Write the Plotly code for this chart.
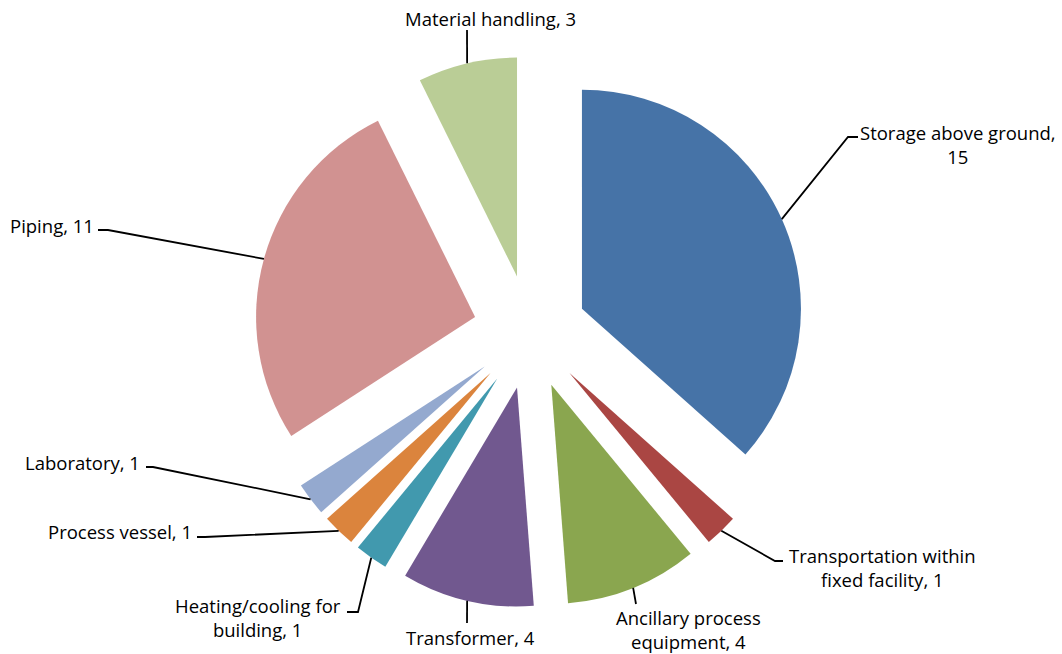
import math
import plotly.graph_objects as go

# Incident counts by equipment type
categories = [
    "Storage above ground",
    "Transportation within fixed facility",
    "Ancillary process equipment",
    "Transformer",
    "Heating/cooling for building",
    "Process vessel",
    "Laboratory",
    "Piping",
    "Material handling",
]
counts = [15, 1, 4, 4, 1, 1, 1, 11, 3]
colors = ["#4673A7", "#AA4643", "#8AA64F", "#71588F", "#4199AE",
          "#DB843D", "#94A9CF", "#D19291", "#BACD96"]
# words kept on the first line of each data label (0 = single line)
wrap_words = [3, 2, 2, 0, 2, 0, 0, 0, 0]

# ---- layout constants (pixels) ----
W, H = 1062, 654
CX, CY = 530, 332          # pie centre
R = 219                    # slice radius
PULL = 0.26                # explosion, fraction of radius

# label centres and leader-line knee points for each slice
label_xy = [(958, 145), (882, 567), (688, 629), (470, 637), (258, 617),
            (120, 531), (82, 462), (52, 225), (490, 18)]
leader_pts = [
    [(848, 137), (858, 137)],
    [(775, 561), (783, 561)],
    [(636, 604)],
    [(467, 623)],
    [(358, 612), (347, 612)],
    [(205, 537), (197, 537)],
    [(153, 467), (146, 467)],
    [(108, 230), (98, 230)],
    [(467, 30)],
]

half = R * (1 + PULL)
dom_x = [(CX - half - 20) / W, (CX + half + 20) / W]
dom_y = [1 - (CY + half) / H, 1 - (CY - half) / H]


def px(x):
    return x / W


def py(y):
    return 1 - y / H


fig = go.Figure(go.Pie(
    labels=categories,
    values=counts,
    sort=False,
    direction="clockwise",
    rotation=0,
    pull=[PULL] * len(counts),
    marker=dict(colors=colors, line=dict(width=0)),
    textinfo="none",
    hoverinfo="label+value",
    domain=dict(x=dom_x, y=dom_y),
    showlegend=False,
))

total = sum(counts)
cum = 0
shapes, annotations = [], []
for i, (name, n) in enumerate(zip(categories, counts)):
    mid = (cum + n / 2) / total * 2 * math.pi
    cum += n
    # outer arc point of the exploded slice at its mid angle
    ax = CX + (1 + PULL) * R * math.sin(mid)
    ay = CY - (1 + PULL) * R * math.cos(mid)
    pts = [(ax, ay)] + leader_pts[i]
    path = "M " + " L ".join(f"{px(x):.5f},{py(y):.5f}" for x, y in pts)
    shapes.append(dict(type="path", path=path, xref="paper", yref="paper",
                       line=dict(color="black", width=1.8)))

    words = f"{name}, {n}".split(" ")
    k = wrap_words[i]
    text = " ".join(words) if k == 0 else " ".join(words[:k]) + "<br>" + " ".join(words[k:])
    lx, ly = label_xy[i]
    annotations.append(dict(x=px(lx), y=py(ly), xref="paper", yref="paper",
                            text=text, showarrow=False, align="center",
                            xanchor="center", yanchor="middle",
                            font=dict(family="Open Sans", size=18.5, color="black")))

fig.update_layout(
    width=W, height=H,
    margin=dict(l=0, r=0, t=0, b=0),
    paper_bgcolor="white",
    plot_bgcolor="white",
    shapes=shapes,
    annotations=annotations,
)

fig.write_html("out.html")
